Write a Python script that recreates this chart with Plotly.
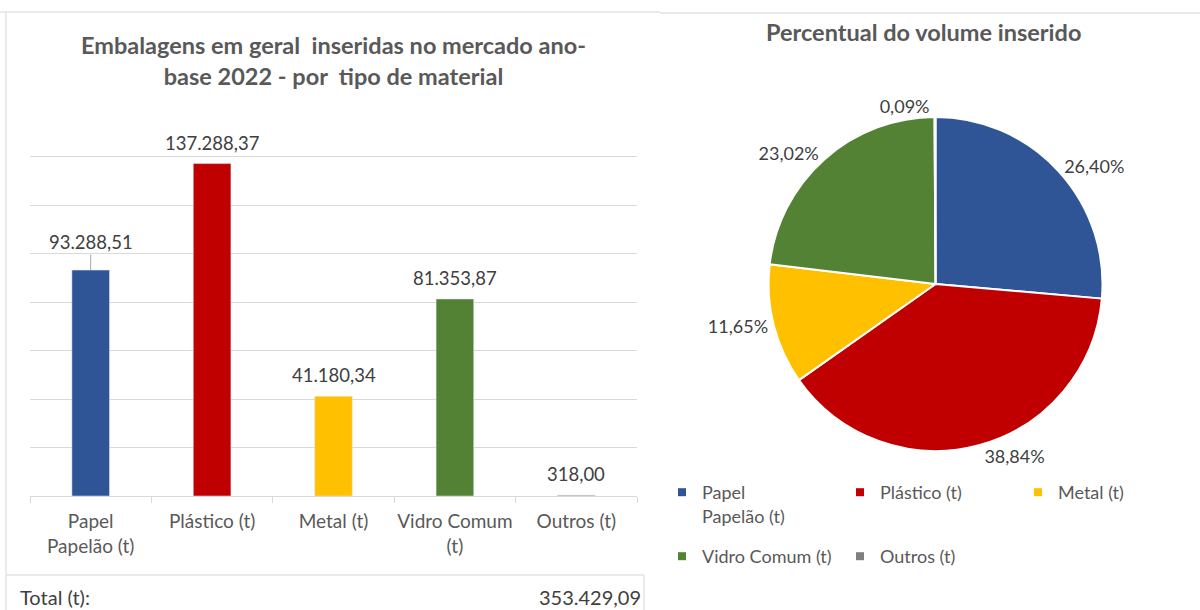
import plotly.graph_objects as go

W, H = 1200, 610

# dados
categorias = ["Papel<br>Papelão (t)", "Plástico (t)", "Metal (t)", "Vidro Comum<br>(t)", "Outros (t)"]
nomes_legenda = ["Papel<br>Papelão (t)", "Plástico (t)", "Metal (t)", "Vidro Comum (t)", "Outros (t)"]
toneladas = [93288.51, 137288.37, 41180.34, 81353.87, 318.00]
cores = ["#2F5597", "#C00000", "#FFC000", "#548235", "#7F7F7F"]

FONTE = "Lato"
CINZA = "#595959"
ESCURO = "#404040"
LINHA = "#d9d9d9"


def br(v):
    # 1234.5 -> 1.234,50
    return f"{v:,.2f}".replace(",", "X").replace(".", ",").replace("X", ".")


def px(x):
    return x / W


def py(y):
    return 1 - y / H


fig = go.Figure()

fig.add_trace(go.Bar(
    x=categorias, y=toneladas,
    marker=dict(color=cores),
    showlegend=False, hoverinfo="x+y",
))

# pizza
fig.add_trace(go.Pie(
    labels=[n.replace("<br>", " ") for n in nomes_legenda],
    values=toneladas,
    marker=dict(colors=cores, line=dict(color="white", width=2)),
    sort=False, direction="clockwise", rotation=0,
    texttemplate="%{percent:.2%}", textposition="outside",
    textfont=dict(family=FONTE, size=18, color=ESCURO),
    showlegend=False,
    domain=dict(x=[px(768), px(1103)], y=[py(451), py(117)]),
))

# entradas da legenda (duas linhas como no original)
for i, nome in enumerate(nomes_legenda):
    fig.add_trace(go.Scatter(
        x=[None], y=[None], mode="markers", name=nome,
        marker=dict(symbol="square", size=8, color=cores[i]),
        legend="legend" if i < 3 else "legend2",
        hoverinfo="skip",
    ))

anotacoes = []
for i, (c, v) in enumerate(zip(categorias, toneladas)):
    if i == 0:
        anotacoes.append(dict(x=c, y=v, xref="x", yref="y", text=br(v), showarrow=True,
                              ax=0, ay=-28, arrowhead=0, arrowwidth=1, arrowcolor="#a6a6a6",
                              standoff=0, font=dict(family=FONTE, size=18.5, color=ESCURO)))
    else:
        anotacoes.append(dict(x=c, y=v, xref="x", yref="y", text=br(v), showarrow=False,
                              yanchor="middle", yshift=21,
                              font=dict(family=FONTE, size=18.5, color=ESCURO)))

anotacoes += [
    dict(x=px(333), y=py(61), xref="paper", yref="paper", showarrow=False,
         xanchor="center", yanchor="middle", align="center",
         text="<b>Embalagens em geral\u00a0 inseridas no mercado ano-<br>base 2022 - por\u00a0 tipo de material</b>",
         font=dict(family=FONTE, size=23.5, color=CINZA)),
    dict(x=px(923), y=py(32), xref="paper", yref="paper", showarrow=False,
         xanchor="center", yanchor="middle",
         text="<b>Percentual do volume inserido</b>",
         font=dict(family=FONTE, size=23.5, color=CINZA)),
    dict(x=px(18), y=py(597), xref="paper", yref="paper", showarrow=False,
         xanchor="left", yanchor="middle",
         text="Total (t):", font=dict(family=FONTE, size=20, color=ESCURO)),
    dict(x=px(643), y=py(597), xref="paper", yref="paper", showarrow=False,
         xanchor="right", yanchor="middle",
         text=br(sum(toneladas)), font=dict(family=FONTE, size=20, color=ESCURO)),
]

bordas = [
    dict(x0=px(0), x1=px(660), y0=py(12), y1=py(12)),
    dict(x0=px(660), x1=1, y0=py(13), y1=py(13)),
    dict(x0=px(6), x1=px(6), y0=py(12), y1=0),
    dict(x0=px(6), x1=px(644), y0=py(575), y1=py(575)),
    dict(x0=px(644), x1=px(644), y0=py(575), y1=0),
]
for b in bordas:
    b.update(type="line", xref="paper", yref="paper", line=dict(color="#e3e3e3", width=1.5))

# legenda não pode passar da borda direita (senão a página fica mais larga)
leg = dict(orientation="h", xanchor="left", yanchor="top", entrywidth=133, entrywidthmode="pixels",
           font=dict(family=FONTE, size=18, color=CINZA), valign="top",
           bgcolor="rgba(0,0,0,0)", x=px(662))

# eixo y vai um pouco além de 140000 para a linha de grade do topo aparecer
y_max = 141000
topo = 496 - 339 * y_max / 140000

fig.update_layout(
    width=W, height=H, autosize=False,
    margin=dict(l=0, r=0, t=0, b=0),
    paper_bgcolor="white", plot_bgcolor="white",
    font=dict(family=FONTE, color=CINZA),
    separators=",.",
    bargap=0.69,
    xaxis=dict(domain=[px(30), px(637)], showline=True, linecolor=LINHA, linewidth=1,
               ticks="outside", tickson="boundaries", tickcolor=LINHA, ticklen=6,
               tickangle=0,
               tickfont=dict(family=FONTE, size=19, color=CINZA), ticklabelstandoff=8,
               showgrid=False, fixedrange=True),
    yaxis=dict(domain=[py(496), py(topo)], range=[0, y_max], dtick=20000,
               showticklabels=False, showgrid=True, gridcolor=LINHA, zeroline=False,
               fixedrange=True),
    legend=dict(leg, y=py(474)),
    legend2=dict(leg, y=py(538)),
    annotations=anotacoes,
    shapes=bordas,
)

# sem margem nem barras de rolagem: a figura ocupa exatamente a janela
fig.write_html(
    "out.html",
    config={"displayModeBar": False},
    post_script="document.body.style.margin='0';"
                "document.body.style.overflow='hidden';"
                "document.documentElement.style.overflow='hidden';",
)
